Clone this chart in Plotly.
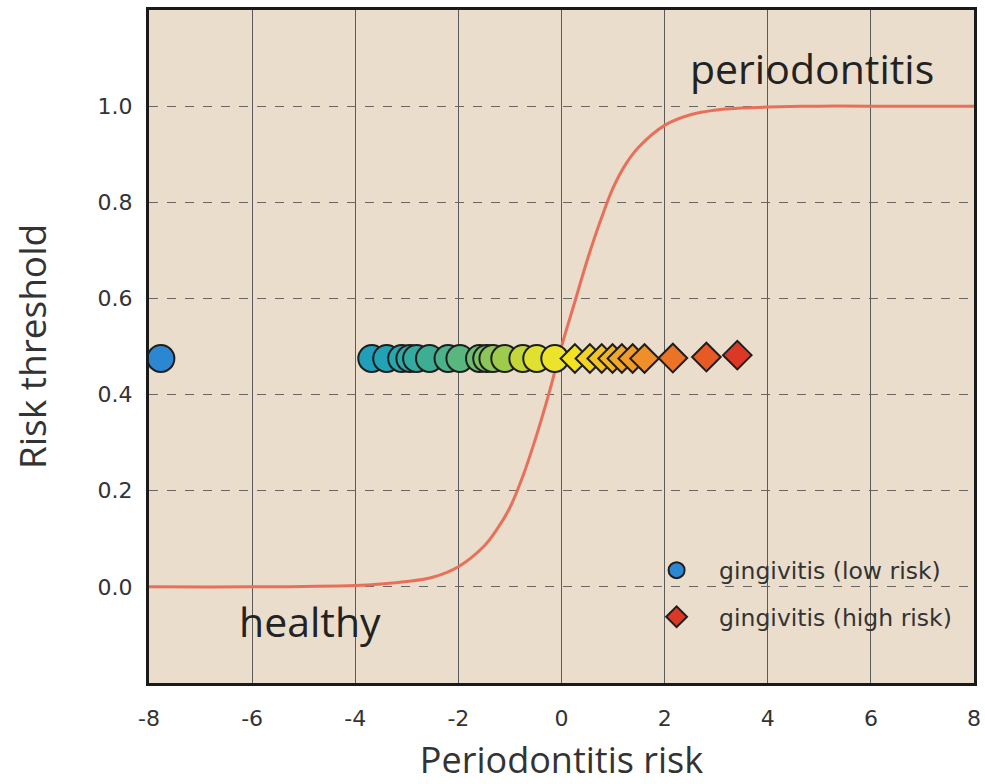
import plotly.graph_objects as go

# ---- data ----
curve_x = [-8, -6, -4, -3.5, -3, -2.5, -2, -1.5, -1.25, -1, -0.75, -0.5, -0.25, 0,
           0.25, 0.5, 0.75, 1, 1.25, 1.5, 2, 2.5, 3, 3.5, 4, 5, 6, 8]
curve_y = [0, 0, 0.003, 0.006, 0.011, 0.02, 0.042, 0.085, 0.12, 0.165, 0.23, 0.31, 0.40, 0.50,
           0.59, 0.68, 0.76, 0.83, 0.88, 0.915, 0.96, 0.982, 0.992, 0.996, 0.998, 1.0, 1.0, 1.0]

low_x = [-7.77, -3.68, -3.39, -3.10, -2.94, -2.81, -2.56, -2.20, -1.97, -1.59, -1.45, -1.33,
         -1.10, -0.75, -0.48, -0.13]
low_y = [0.475] * len(low_x)
low_colors = ["#2b87d1", "#1f9fba", "#22a3b5", "#28a6ae", "#2ea9a8", "#34aba0", "#3dae94",
              "#4ab38a", "#58b77f", "#6cbd72", "#7cc265", "#8cc65a", "#9fcb4c", "#c4d63a",
              "#dfe030", "#ece32a"]

high_x = [0.26, 0.55, 0.78, 0.99, 1.17, 1.38, 1.61, 2.16, 2.81]
high_y = [0.475, 0.475, 0.475, 0.475, 0.475, 0.475, 0.475, 0.476, 0.478]
high_colors = ["#f2e21f", "#f4d323", "#f3c424", "#f2b526", "#f0a828", "#ef9c2a", "#ee8f2a",
               "#ea7326", "#e75a24"]
top_x = [3.41]
top_y = [0.482]
top_colors = ["#dc3826"]

x_ticks = [-8, -6, -4, -2, 0, 2, 4, 6, 8]
y_ticks = [0.0, 0.2, 0.4, 0.6, 0.8, 1.0]

label_high = ("periodontitis", 4.85, 1.08)
label_low = ("healthy", -4.88, -0.07)

# ---- figure ----
fig = go.Figure()
fig.add_trace(go.Scatter(x=curve_x, y=curve_y, mode="lines", line=dict(color="#e8705a", width=3, shape="spline"),
                         showlegend=False, hoverinfo="skip"))
fig.add_trace(go.Scatter(x=low_x, y=low_y, mode="markers", name="gingivitis (low risk)",
                         legendgroup="low",
                         marker=dict(symbol="circle", size=27, color=low_colors,
                                     line=dict(color="#1e1e1e", width=2))))
fig.add_trace(go.Scatter(x=high_x, y=high_y, mode="markers", name="gingivitis (high risk)",
                         legendgroup="high", showlegend=False,
                         marker=dict(symbol="diamond", size=22, color=high_colors,
                                     line=dict(color="#1e1e1e", width=2))))
fig.add_trace(go.Scatter(x=top_x, y=top_y, mode="markers", name="gingivitis (high risk)",
                         legendgroup="high",
                         marker=dict(symbol="diamond", size=22, color=top_colors,
                                     line=dict(color="#1e1e1e", width=2))))

for txt, ax, ay in (label_high, label_low):
    fig.add_annotation(x=ax, y=ay, text=txt, showarrow=False,
                       font=dict(family="Open Sans", size=41, color="#222222"))

fig.update_layout(
    width=985, height=784,
    margin=dict(l=149, r=11, t=10, b=101),
    paper_bgcolor="white",
    plot_bgcolor="#eaddcb",
    legend=dict(x=0.588, y=0.2, xanchor="left", yanchor="top",
                bgcolor="rgba(0,0,0,0)", itemwidth=75, tracegroupgap=13,
                font=dict(family="DejaVu Sans", size=23.5, color="#333333")),
    xaxis=dict(range=[-8, 8], tickvals=x_ticks, ticktext=[str(v) for v in x_ticks],
               showgrid=True, gridcolor="#5a5a5a", gridwidth=1, zeroline=False,
               showline=True, linecolor="#1a1a1a", linewidth=3, mirror=True,
               ticks="", ticklabelstandoff=14, automargin=False,
               tickfont=dict(family="DejaVu Sans", size=22, color="#333333"),
               title=dict(text="Periodontitis risk", standoff=18,
                          font=dict(family="Open Sans", size=36, color="#333333"))),
    yaxis=dict(range=[-0.2, 1.2], tickvals=y_ticks, tickformat=".1f",
               showgrid=True, gridcolor="#666666", gridwidth=1, griddash="dash", zeroline=False,
               showline=True, linecolor="#1a1a1a", linewidth=3, mirror=True,
               ticks="", ticklabelstandoff=9, automargin=False,
               tickfont=dict(family="DejaVu Sans", size=22, color="#333333"),
               title=dict(text="Risk threshold", standoff=40,
                          font=dict(family="Open Sans", size=37, color="#333333"))),
)

fig.write_html("out.html", config={"displayModeBar": False},
               post_script="document.body.style.margin='0';")
